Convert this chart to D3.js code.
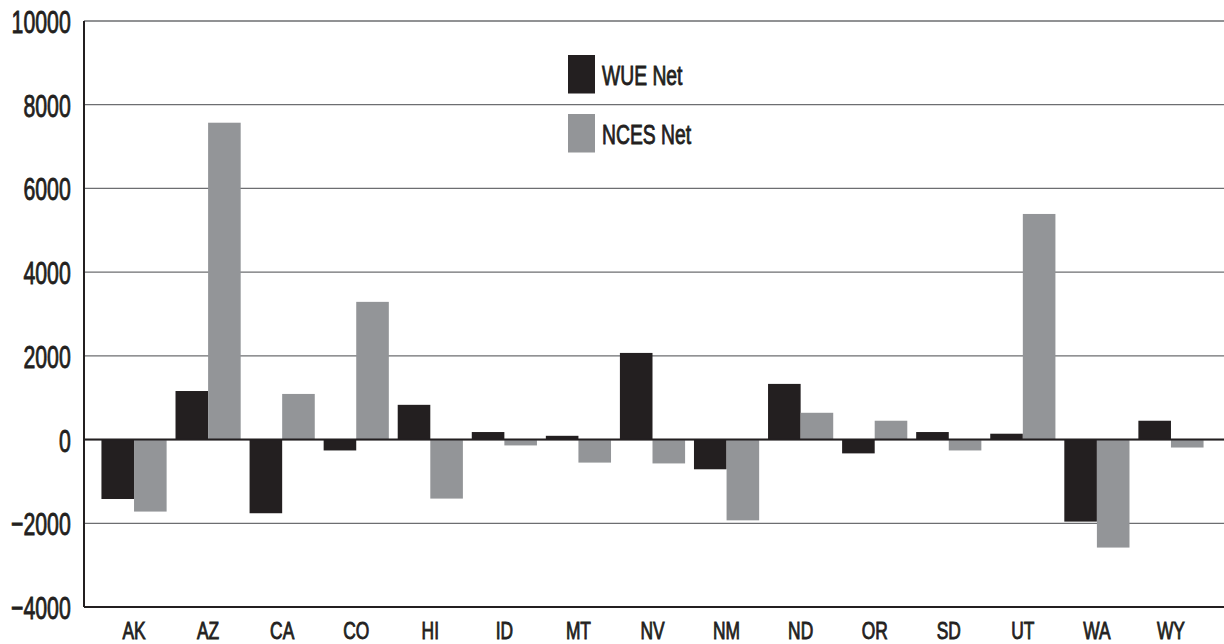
<!DOCTYPE html>
<html>
<head>
<meta charset="utf-8">
<script src="https://cdn.jsdelivr.net/npm/d3@7"></script>
<style>
    body { margin: 0; background: #fff; }
    svg text { font-family: "Liberation Sans", Arial, sans-serif; fill: #231f20; stroke: #231f20; stroke-width: 0.9; }
    .grid line { stroke: #6d6e71; stroke-width: 1.3; }
    .axis-line { stroke: #231f20; stroke-width: 2; }
</style>
</head>
<body>
<div id="chart-area"></div>
<script>

// Data
var states = ["AK", "AZ", "CA", "CO", "HI", "ID", "MT", "NV", "NM", "ND", "OR", "SD", "UT", "WA", "WY"];
var wueNet  = [-1420, 1160, -1760, -260,   830,  180,   90, 2070, -710, 1330, -330,  180,  140, -1960,  450];
var ncesNet = [-1720, 7570,  1090, 3290, -1410, -140, -550, -570, -1930, 640,  450, -260, 5390, -2580, -190];
var seriesNames = ["WUE Net", "NCES Net"];
var seriesColors = ["#231f20", "#939598"];
var yTicks = [-4000, -2000, 0, 2000, 4000, 6000, 8000, 10000];

// horizontal squeeze to mimic the condensed face of the original
var squeeze = 0.665;


/*
 * BarVis - grouped bar chart
 * @param _parentElement  -- id of the element to draw into
 */

BarVis = function(_parentElement){
    this.parentElement = _parentElement;
    this.displayData = [];

    this.initVis();
}


BarVis.prototype.initVis = function(){
    var vis = this;

    vis.margin = { top: 21, right: 0, bottom: 37, left: 84 };

    vis.width = 1224 - vis.margin.left - vis.margin.right,
        vis.height = 644 - vis.margin.top - vis.margin.bottom;

    vis.root = d3.select("#" + vis.parentElement).append("svg")
        .attr("width", 1224)
        .attr("height", 644);

    vis.svg = vis.root.append("g")
        .attr("transform", "translate(" + vis.margin.left + "," + vis.margin.top + ")");

    // Scales
    vis.y = d3.scaleLinear()
        .domain([d3.min(yTicks), d3.max(yTicks)])
        .range([vis.height, 0]);

    vis.x0 = d3.scaleBand()
        .domain(states)
        .range([13, 1124])
        .paddingInner(0.12)
        .paddingOuter(0.06);

    vis.x1 = d3.scaleBand()
        .domain(seriesNames)
        .range([0, vis.x0.bandwidth()]);

    // Gridlines (behind bars)
    vis.svg.append("g")
        .attr("class", "grid")
        .selectAll("line")
        .data(yTicks)
        .enter().append("line")
        .attr("x1", 0)
        .attr("x2", vis.width)
        .attr("y1", function(d){ return vis.y(d); })
        .attr("y2", function(d){ return vis.y(d); });

    vis.barGroup = vis.svg.append("g").attr("class", "bars");

    // Axes
    vis.yAxis = d3.axisLeft(vis.y)
        .tickValues(yTicks)
        .tickFormat(d3.format("d"))
        .tickSize(0)
        .tickPadding(0);

    vis.xAxis = d3.axisBottom(vis.x0)
        .tickSize(0)
        .tickPadding(0);

    vis.svg.append("g")
        .attr("class", "y-axis axis");

    vis.svg.append("g")
        .attr("class", "x-axis axis")
        .attr("transform", "translate(0," + vis.height + ")");

    // Legend
    vis.legend = vis.root.append("g").attr("class", "legend");

    vis.wrangleData();
}


BarVis.prototype.wrangleData = function(){
    var vis = this;

    vis.displayData = states.map(function(s, i){
        return { state: s, values: [
            { key: seriesNames[0], value: wueNet[i] },
            { key: seriesNames[1], value: ncesNet[i] }
        ]};
    });

    vis.updateVis();
}


BarVis.prototype.updateVis = function(){
    var vis = this;
    var color = d3.scaleOrdinal().domain(seriesNames).range(seriesColors);

    var groups = vis.barGroup.selectAll("g.state")
        .data(vis.displayData)
        .enter().append("g")
        .attr("class", "state")
        .attr("transform", function(d){ return "translate(" + vis.x0(d.state) + ",0)"; });

    groups.selectAll("rect")
        .data(function(d){ return d.values; })
        .enter().append("rect")
        .attr("x", function(d){ return vis.x1(d.key); })
        .attr("width", vis.x1.bandwidth())
        .attr("y", function(d){ return vis.y(Math.max(0, d.value)); })
        .attr("height", function(d){ return Math.abs(vis.y(d.value) - vis.y(0)); })
        .attr("fill", function(d){ return color(d.key); });

    // y axis labels
    var yg = vis.svg.select(".y-axis").call(vis.yAxis);
    yg.select(".domain").remove();
    yg.selectAll("text")
        .style("font-size", "32px")
        .attr("x", -13.3 / squeeze)
        .attr("dy", "0.36em")
        .attr("transform", "scale(" + squeeze + ",1)");

    // x axis labels
    var xg = vis.svg.select(".x-axis").call(vis.xAxis);
    xg.select(".domain").remove();
    xg.selectAll("text")
        .style("font-size", "23.8px")
        .attr("y", 32)
        .attr("dy", 0)
        .attr("transform", "scale(0.73,1)")
        .attr("x", 0);
    xg.selectAll(".tick")
        .attr("transform", function(d){ return "translate(" + (vis.x0(d) + vis.x0.bandwidth() / 2) + ",0)"; });

    // Axis lines on top of bars
    vis.svg.append("line").attr("class", "axis-line")
        .attr("x1", 0).attr("x2", 0)
        .attr("y1", 0).attr("y2", vis.height);
    vis.svg.append("line").attr("class", "axis-line")
        .attr("x1", 0).attr("x2", vis.width)
        .attr("y1", vis.y(-4000)).attr("y2", vis.y(-4000));
    vis.svg.append("line").attr("class", "axis-line")
        .attr("x1", 0).attr("x2", vis.width)
        .attr("y1", vis.y(0)).attr("y2", vis.y(0));

    // Legend
    var items = vis.legend.selectAll("g")
        .data(seriesNames)
        .enter().append("g")
        .attr("transform", function(d, i){ return "translate(568," + (55 + i * 59) + ")"; });

    items.append("rect")
        .attr("width", 27)
        .attr("height", 38.5)
        .attr("fill", function(d){ return color(d); });

    items.append("text")
        .style("font-size", "28px")
        .attr("x", 34 / 0.69)
        .attr("y", 30)
        .attr("transform", "scale(0.69,1)")
        .text(function(d){ return d; });
}


var barVis = new BarVis("chart-area");

</script>
</body>
</html>
